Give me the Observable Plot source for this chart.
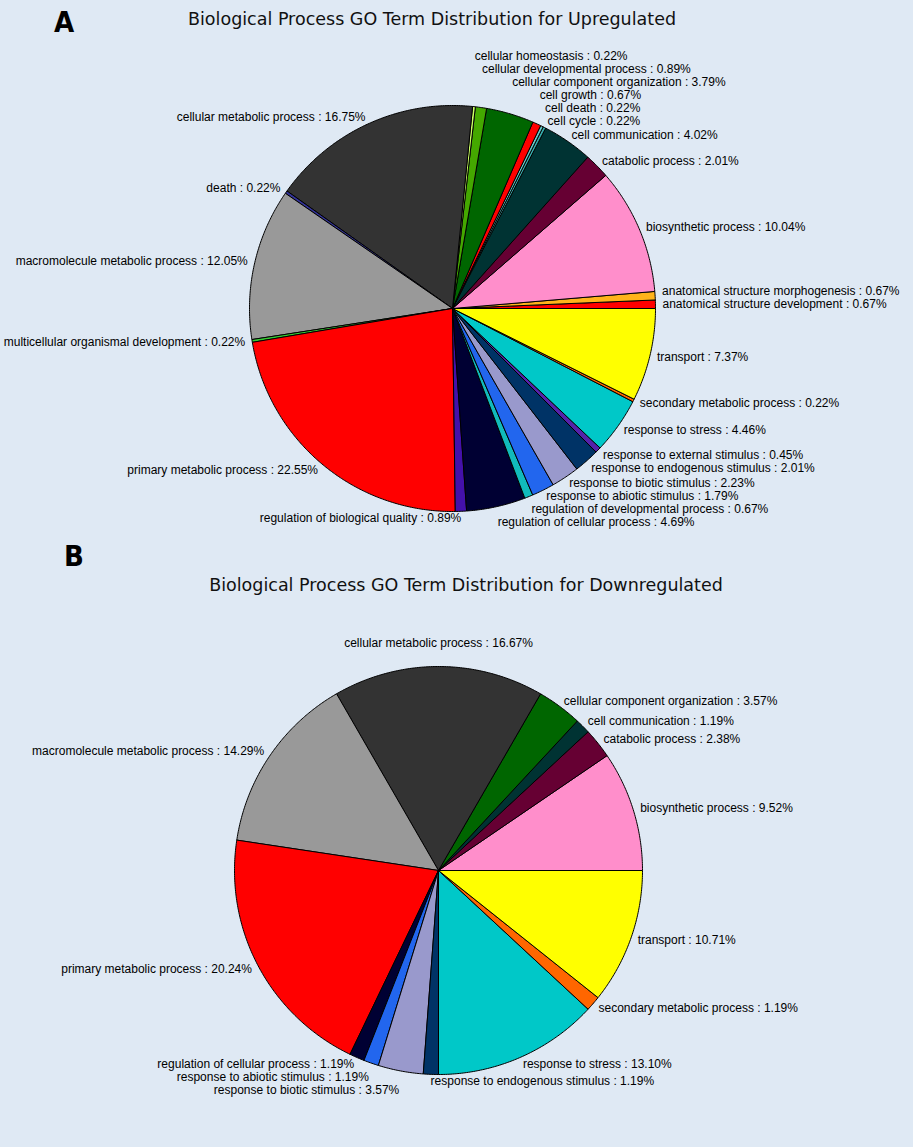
<!DOCTYPE html>
<html><head><meta charset="utf-8">
<script src="https://cdn.jsdelivr.net/npm/d3@7"></script>
<script src="https://cdn.jsdelivr.net/npm/@observablehq/plot@0.6"></script>
<style>
html,body{margin:0;padding:0;background:#dfe9f4;}
body{width:913px;height:1147px;position:relative;overflow:hidden;}
.letter{position:absolute;font-family:"DejaVu Sans Condensed","Liberation Sans Narrow","DejaVu Sans",sans-serif;font-stretch:condensed;font-weight:bold;font-size:29px;line-height:29px;color:#000;}
.title{position:absolute;font-family:"DejaVu Sans",sans-serif;font-size:17.5px;line-height:20px;color:#111;white-space:nowrap;transform:translateX(-50%);}
.panel{position:absolute;}
</style></head><body>
<div id="panelA" class="panel" style="left:0;top:0;"></div>
<div id="panelB" class="panel" style="left:0;top:540px;"></div>
<div class="letter" style="left:54px;top:8px;">A</div>
<div class="title" style="left:432px;top:9px;">Biological Process GO Term Distribution for Upregulated</div>
<div class="letter" style="left:64px;top:542px;">B</div>
<div class="title" style="left:466px;top:575px;">Biological Process GO Term Distribution for Downregulated</div>
<script>
// ---- data ----
const categories = [
  "anatomical structure development", "anatomical structure morphogenesis", "biosynthetic process",
  "catabolic process", "cell communication", "cell cycle", "cell death", "cell growth",
  "cellular component organization", "cellular developmental process", "cellular homeostasis",
  "cellular metabolic process", "death", "macromolecule metabolic process",
  "multicellular organismal development", "primary metabolic process",
  "regulation of biological quality", "regulation of cellular process",
  "regulation of developmental process", "response to abiotic stimulus",
  "response to biotic stimulus", "response to endogenous stimulus",
  "response to external stimulus", "response to stress", "secondary metabolic process", "transport"
];
const categoryColors = [
  "#ff0000", "#ffb31a", "#ff8ecb",
  "#660033", "#003333", "#33aaaa", "#66cccc", "#ff0000",
  "#006600", "#44a800", "#ccff66",
  "#333333", "#333399", "#999999",
  "#33cc33", "#ff0000",
  "#4411aa", "#000033",
  "#11bbbb", "#2266ee",
  "#9999cc", "#003366",
  "#5522aa", "#00c8c8", "#ff6600", "#ffff00"
];
const upTerms = categories.slice();
const upPercent = [0.67, 0.67, 10.04, 2.01, 4.02, 0.22, 0.22, 0.67, 3.79, 0.89, 0.22, 16.75, 0.22, 12.05,
  0.22, 22.55, 0.89, 4.69, 0.67, 1.79, 2.23, 2.01, 0.45, 4.46, 0.22, 7.37];
const downTerms = [
  "biosynthetic process", "catabolic process", "cell communication", "cellular component organization",
  "cellular metabolic process", "macromolecule metabolic process", "primary metabolic process",
  "regulation of cellular process", "response to abiotic stimulus", "response to biotic stimulus",
  "response to endogenous stimulus", "response to stress", "secondary metabolic process", "transport"
];
const downPercent = [9.52, 2.38, 1.19, 3.57, 16.67, 14.29, 20.24, 1.19, 1.19, 3.57, 1.19, 13.10, 1.19, 10.71];

// ---- geometry helpers (slices from values) ----
function buildSlices(terms, values) {
  const total = d3.sum(values);
  let cum = 0;
  return terms.map((t, i) => {
    const a0 = cum / total * 2 * Math.PI; cum += values[i];
    const a1 = cum / total * 2 * Math.PI;
    return {term: t, value: values[i], a0, a1, mid: (a0 + a1) / 2};
  });
}
function slicePoints(slices) {
  const pts = [];
  for (const s of slices) {
    pts.push({term: s.term, x: 0, y: 0});
    const n = Math.max(2, Math.ceil((s.a1 - s.a0) / (Math.PI / 360)));
    for (let k = 0; k <= n; k++) {
      const a = s.a0 + (s.a1 - s.a0) * k / n;
      pts.push({term: s.term, x: Math.cos(a), y: Math.sin(a)});
    }
    pts.push({term: s.term, x: 0, y: 0});
  }
  return pts;
}
function layoutLabels(slices, r, gap, spacing) {
  const Rp = r + gap;
  const L = slices.map(s => ({term: s.term, text: `${s.term} : ${s.value.toFixed(2)}%`,
    c: Math.cos(s.mid), px: Rp * Math.cos(s.mid), py: -Rp * Math.sin(s.mid)}));
  const count = (right, top) => L.filter(l => Math.abs(l.c) >= 0.08 && (l.c > 0) === right && (l.py < 0) === top).length;
  for (const l of L) {
    const top = l.py < 0;
    if (Math.abs(l.c) < 0.01) { l.anchor = "middle"; l.py += top ? -16 : 16; }
    else if (Math.abs(l.c) < 0.08) l.anchor = count(true, top) > count(false, top) ? "end" : "start";
    else l.anchor = l.c > 0 ? "start" : "end";
  }
  for (const anchor of ["start", "end"]) for (const top of [true, false]) {
    const g = L.filter(l => l.anchor === anchor && (l.py < 0) === top);
    if (top) {
      g.sort((a, b) => b.py - a.py);
      let prev = Infinity;
      for (const l of g) { if (l.py > prev - spacing) l.py = prev - spacing; prev = l.py; }
    } else {
      g.sort((a, b) => a.py - b.py);
      let prev = -Infinity;
      for (const l of g) { if (l.py < prev + spacing) l.py = prev + spacing; prev = l.py; }
    }
  }
  return L.map(l => ({...l, x: l.px / r, y: -l.py / r}));
}

function pieChart({terms, values, width, height, cx, cy, r}) {
  const slices = buildSlices(terms, values);
  const pts = slicePoints(slices);
  const labels = layoutLabels(slices, r, 7, 13);
  const textOpts = {x: "x", y: "y", text: "text", fontSize: 12,
    fontFamily: "'Liberation Sans', Arial, Helvetica, sans-serif", fill: "#000", lineAnchor: "middle"};
  return Plot.plot({
    width, height, margin: 0,
    style: {background: "transparent"},
    x: {domain: [-cx / r, (width - cx) / r], range: [0, width], axis: null},
    y: {domain: [cy / r, (cy - height) / r], range: [0, height], axis: null},
    color: {type: "ordinal", domain: categories, range: categoryColors},
    marks: [
      Plot.line(pts, {x: "x", y: "y", z: "term", fill: "term", stroke: "#000", strokeWidth: 1,
        strokeLinejoin: "miter", strokeMiterlimit: 4, curve: "linear"}),
      Plot.text(labels.filter(l => l.anchor === "start"), {...textOpts, textAnchor: "start"}),
      Plot.text(labels.filter(l => l.anchor === "end"), {...textOpts, textAnchor: "end"}),
      Plot.text(labels.filter(l => l.anchor === "middle"), {...textOpts, textAnchor: "middle"})
    ]
  });
}

document.getElementById("panelA").append(pieChart({terms: upTerms, values: upPercent,
  width: 913, height: 545, cx: 452, cy: 308, r: 203}));
document.getElementById("panelB").append(pieChart({terms: downTerms, values: downPercent,
  width: 913, height: 607, cx: 438, cy: 330, r: 204}));
</script>
</body></html>
